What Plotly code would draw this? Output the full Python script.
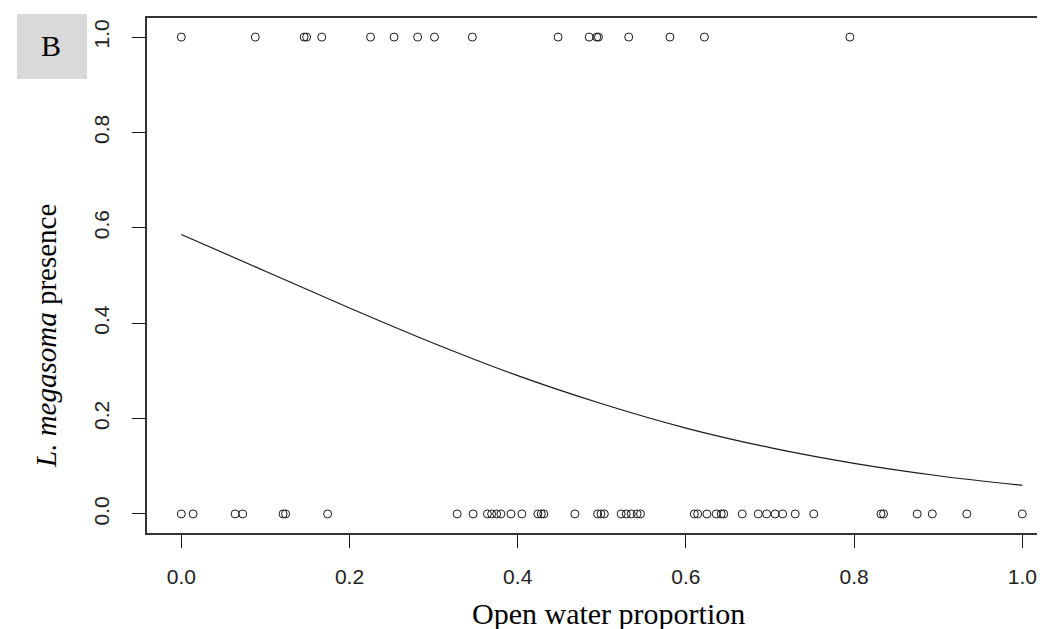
import plotly.graph_objects as go

# Presence (y = 1) observations: open water proportion
present_x = [0.000, 0.088, 0.146, 0.149, 0.167, 0.225, 0.253, 0.281, 0.301, 0.346,
             0.448, 0.485, 0.494, 0.496, 0.532, 0.581, 0.622, 0.795]
# Absence (y = 0) observations
absent_x = [0.000, 0.014, 0.064, 0.073, 0.121, 0.124, 0.174, 0.328, 0.347, 0.364,
            0.369, 0.375, 0.380, 0.392, 0.405, 0.424, 0.428, 0.431, 0.468, 0.495,
            0.499, 0.503, 0.523, 0.529, 0.535, 0.542, 0.546, 0.610, 0.614, 0.625,
            0.636, 0.642, 0.645, 0.667, 0.686, 0.696, 0.706, 0.715, 0.730, 0.752,
            0.832, 0.835, 0.875, 0.893, 0.934, 1.000]
# Fitted curve
curve_x = [0.0, 0.1, 0.2, 0.3, 0.4, 0.5, 0.6, 0.7, 0.8, 0.9, 1.0]
curve_y = [0.586, 0.509, 0.432, 0.358, 0.290, 0.231, 0.180, 0.139, 0.106, 0.080, 0.060]

x_ticks = [0.0, 0.2, 0.4, 0.6, 0.8, 1.0]
y_ticks = [0.0, 0.2, 0.4, 0.6, 0.8, 1.0]
x_tick_labels = ["0.0", "0.2", "0.4", "0.6", "0.8", "1.0"]
y_tick_labels = ["0.0", "0.2", "0.4", "0.6", "0.8", "1.0"]

W, H = 1045, 629
L, T, B = 139, 10, 104
PW, PH = W - L, H - T - B

def px(xp):
    return (xp - L) / PW

def py(yp):
    return (H - B - yp) / PH

ink = "#1a1a1a"
marker = dict(symbol="circle-open", size=8, color=ink, line=dict(width=1, color=ink))

fig = go.Figure()
fig.add_trace(go.Scatter(x=present_x, y=[1] * len(present_x), mode="markers",
                         marker=marker, showlegend=False))
fig.add_trace(go.Scatter(x=absent_x, y=[0] * len(absent_x), mode="markers",
                         marker=marker, showlegend=False))
fig.add_trace(go.Scatter(x=curve_x, y=curve_y, mode="lines",
                         line=dict(color=ink, width=1.2, shape="spline"),
                         showlegend=False))

tickfont = dict(family="Liberation Sans, Arial, sans-serif", size=21, color="#222222")
fig.update_layout(
    width=W, height=H,
    margin=dict(l=L, r=0, t=T, b=B, pad=0),
    paper_bgcolor="white", plot_bgcolor="white",
    xaxis=dict(range=[-0.0408, 1.0365], tickvals=x_ticks, ticktext=x_tick_labels,
               ticks="outside", ticklen=13, tickwidth=1, tickcolor=ink,
               showline=True, linecolor="#333333", linewidth=1.5, mirror=True,
               showgrid=False, zeroline=False, tickfont=tickfont,
               ticklabelstandoff=11),
    yaxis=dict(range=[-0.04, 1.04], tickvals=y_ticks, ticktext=y_tick_labels,
               ticks="outside", ticklen=13, tickwidth=1, tickcolor=ink,
               showline=True, linecolor="#333333", linewidth=1.5, mirror=False,
               showgrid=False, zeroline=False, tickfont=tickfont, tickangle=-90,
               ticklabelstandoff=15),
)

serif = "Liberation Serif, Times New Roman, serif"
fig.add_annotation(text="Open water proportion", xref="paper", yref="paper",
                   x=px(600), y=py(605), xanchor="center", yanchor="middle",
                   showarrow=False, font=dict(family=serif, size=30, color="black"))
fig.add_annotation(text="<i>L. megasoma</i> presence", xref="paper", yref="paper",
                   x=px(38), y=py(328), xanchor="center", yanchor="middle",
                   textangle=-90, showarrow=False,
                   font=dict(family=serif, size=29, color="black"))
fig.add_shape(type="rect", xref="paper", yref="paper",
              x0=px(9), x1=px(79), y0=py(71), y1=py(6),
              fillcolor="#d9d9d9", line=dict(width=0), layer="below")
fig.add_annotation(text="B", xref="paper", yref="paper",
                   x=px(43), y=py(37), xanchor="center", yanchor="middle",
                   showarrow=False, font=dict(family=serif, size=30, color="black"))

fig.write_html("out.html")
